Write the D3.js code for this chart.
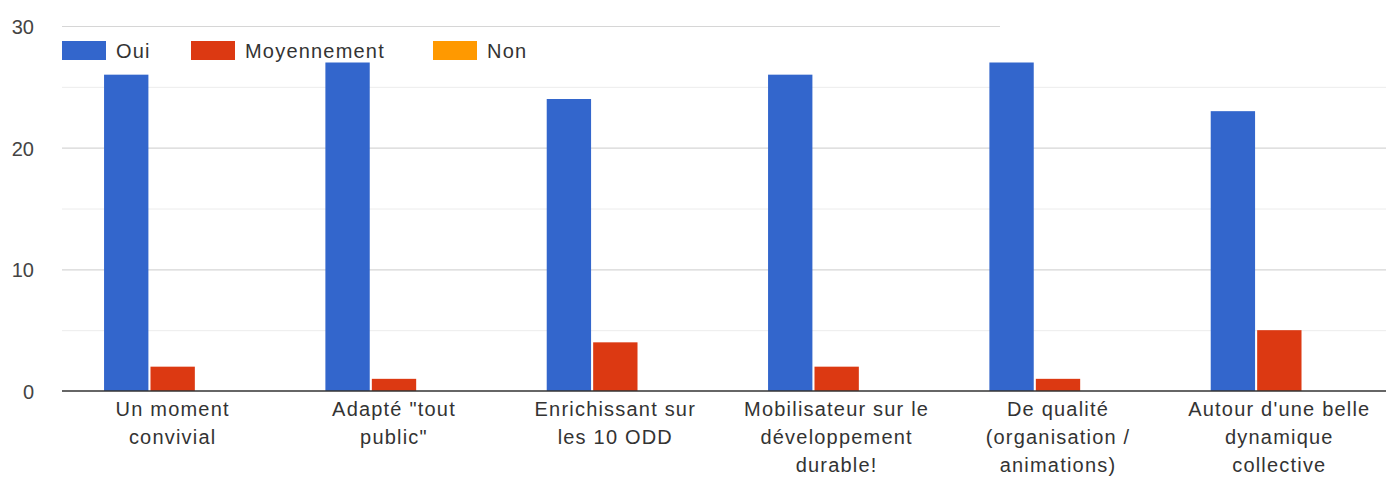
<!DOCTYPE html>
<html>
<head>
<meta charset="utf-8">
<script src="https://cdn.jsdelivr.net/npm/d3@7"></script>
<style>
  body { margin: 0; background: #fff; overflow: hidden; }
  text { font-family: "Liberation Sans", Arial, sans-serif; }
</style>
</head>
<body>
<div id="chart"></div>
<script>
// Chart data
const CATEGORIES = [
  ["Un moment", "convivial"],
  ["Adapté \"tout", "public\""],
  ["Enrichissant sur", "les 10 ODD"],
  ["Mobilisateur sur le", "développement", "durable!"],
  ["De qualité", "(organisation /", "animations)"],
  ["Autour d'une belle", "dynamique", "collective"]
];
const SERIES = ["Oui", "Moyennement", "Non"];
const OUI = [26, 27, 24, 26, 27, 23];
const MOYENNEMENT = [2, 1, 4, 2, 1, 5];
const NON = [0, 0, 0, 0, 0, 0];
const Y_TICKS = [0, 10, 20, 30];
const Y_MINOR = [5, 15, 25];

const FRAME_WIDTH = 1386;
const FRAME_HEIGHT = 479;
const MARGINS = {left: 62, right: -4, top: 26, bottom: 88};
const VIS_WIDTH = FRAME_WIDTH - MARGINS.left - MARGINS.right;
const VIS_HEIGHT = FRAME_HEIGHT - MARGINS.top - MARGINS.bottom;

const COLORS = {"Oui": "#3366cc", "Moyennement": "#dc3912", "Non": "#ff9900"};

const FRAME = d3.select("#chart")
  .append("svg")
    .attr("width", FRAME_WIDTH)
    .attr("height", FRAME_HEIGHT);

const values = {"Oui": OUI, "Moyennement": MOYENNEMENT, "Non": NON};
const data = CATEGORIES.map((c, i) => ({
  idx: i,
  vals: SERIES.map(s => ({series: s, value: values[s][i]}))
}));

const X_SCALE = d3.scaleBand()
  .domain(d3.range(CATEGORIES.length))
  .range([0, VIS_WIDTH])
  .paddingInner(0.38)
  .paddingOuter(0.19);

const X_INNER = d3.scaleBand()
  .domain(SERIES)
  .range([0, X_SCALE.bandwidth()])
  .paddingInner(0.045);

const Y_SCALE = d3.scaleLinear()
  .domain([0, 30])
  .range([VIS_HEIGHT, 0]);

const G = FRAME.append("g")
  .attr("transform", "translate(" + MARGINS.left + "," + MARGINS.top + ")");

// minor gridlines
G.selectAll(".minor")
  .data(Y_MINOR)
  .enter()
  .append("line")
    .attr("x1", 0)
    .attr("x2", VIS_WIDTH)
    .attr("y1", d => Y_SCALE(d) + 0.5)
    .attr("y2", d => Y_SCALE(d) + 0.5)
    .attr("stroke", "#ececec")
    .attr("stroke-width", 1);

// major gridlines (top one stops short, as in the source picture)
G.selectAll(".major")
  .data(Y_TICKS.filter(d => d > 0))
  .enter()
  .append("line")
    .attr("x1", 0)
    .attr("x2", d => d === 30 ? 1000 - MARGINS.left : VIS_WIDTH)
    .attr("y1", d => Y_SCALE(d) + 0.5)
    .attr("y2", d => Y_SCALE(d) + 0.5)
    .attr("stroke", "#d6d6d6")
    .attr("stroke-width", 1.2);

// y tick labels
G.selectAll(".ylab")
  .data(Y_TICKS)
  .enter()
  .append("text")
    .attr("x", -28)
    .attr("y", d => Y_SCALE(d) + 1)
    .attr("dy", "0.35em")
    .attr("text-anchor", "end")
    .style("font-size", "20px")
    .attr("fill", "#444")
    .text(d => d);

// bars
const groups = G.selectAll(".grp")
  .data(data)
  .enter()
  .append("g")
    .attr("transform", d => "translate(" + X_SCALE(d.idx) + ",0)");

groups.selectAll("rect")
  .data(d => d.vals.filter(v => v.value > 0))
  .enter()
  .append("rect")
    .attr("x", d => X_INNER(d.series))
    .attr("y", d => Y_SCALE(d.value))
    .attr("width", X_INNER.bandwidth())
    .attr("height", d => VIS_HEIGHT - Y_SCALE(d.value))
    .attr("fill", d => COLORS[d.series]);

// baseline
G.append("line")
  .attr("x1", 0)
  .attr("x2", VIS_WIDTH)
  .attr("y1", VIS_HEIGHT)
  .attr("y2", VIS_HEIGHT)
  .attr("stroke", "#333")
  .attr("stroke-width", 1.5);

// category labels
const labels = G.selectAll(".xlab")
  .data(CATEGORIES)
  .enter()
  .append("text")
    .attr("text-anchor", "middle")
    .attr("x", (d, i) => X_SCALE(i) + X_SCALE.bandwidth() / 2)
    .attr("y", VIS_HEIGHT + 25)
    .style("font-size", "20px")
    .style("letter-spacing", "1.2px")
    .attr("fill", "#333");

labels.selectAll("tspan")
  .data(d => d)
  .enter()
  .append("tspan")
    .attr("x", function() { return this.parentNode.getAttribute("x"); })
    .attr("dy", (d, i) => i === 0 ? 0 : 28)
    .text(d => d);

// legend
const LEGEND_X = [62, 191, 433];
const legend = FRAME.selectAll(".leg")
  .data(SERIES)
  .enter()
  .append("g")
    .attr("transform", (d, i) => "translate(" + LEGEND_X[i] + ",40)");

legend.append("rect")
  .attr("x", -2)
  .attr("width", 48)
  .attr("height", 22)
  .attr("fill", "#fff");
legend.append("rect")
  .attr("y", 1)
  .attr("width", 44)
  .attr("height", 19)
  .attr("fill", d => COLORS[d]);
legend.append("text")
  .attr("x", 54)
  .attr("y", 11)
  .attr("dy", "0.35em")
  .style("font-size", "20px")
  .style("letter-spacing", "1.2px")
  .attr("fill", "#333")
  .text(d => d);
</script>
</body>
</html>
